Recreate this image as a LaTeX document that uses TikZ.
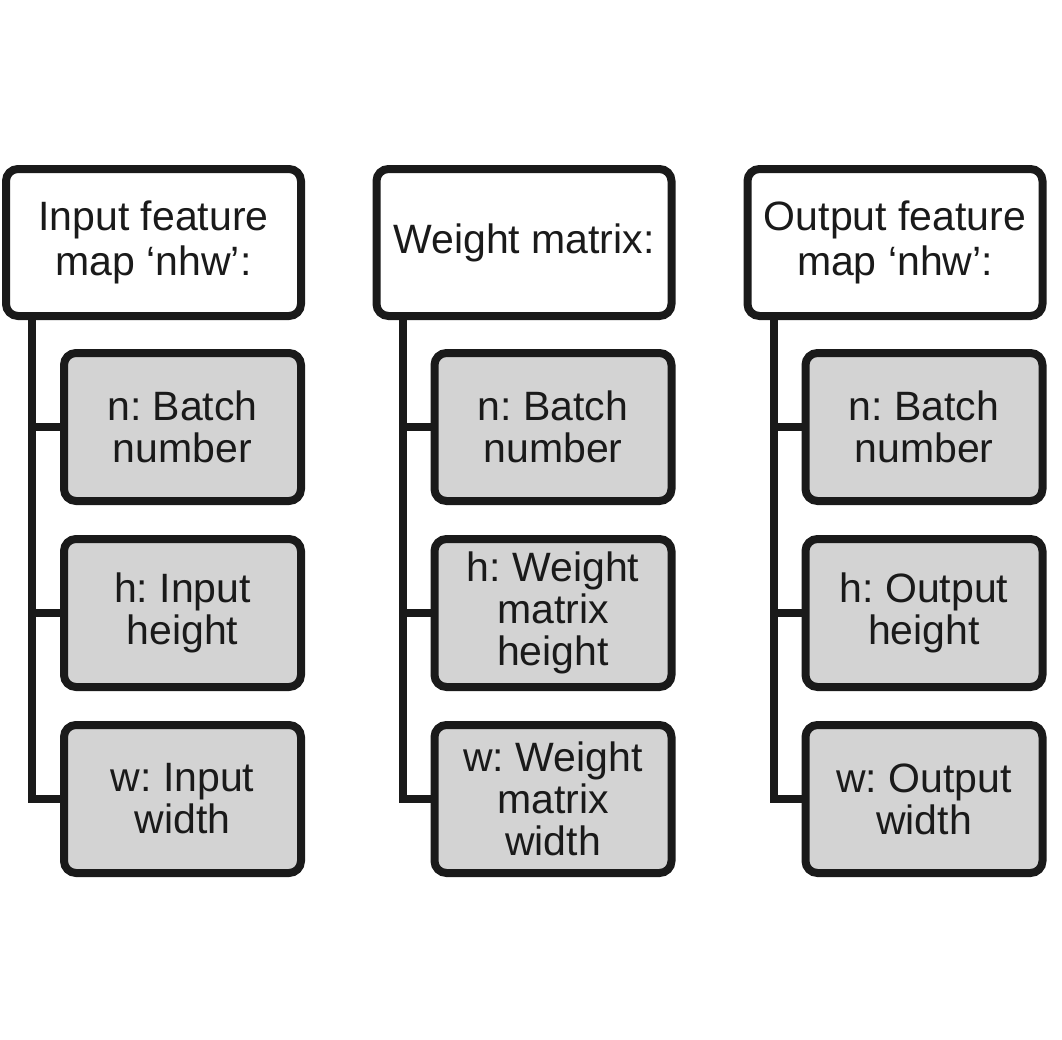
\documentclass[tikz,border=0pt]{standalone}
\usepackage{fontspec}
\setmainfont{Liberation Sans}
\usepackage{xcolor}
\usepackage{tikz}
\usetikzlibrary{positioning}
\definecolor{boxline}{RGB}{26, 26, 26}
\definecolor{boxgray}{RGB}{211, 211, 211}
\frenchspacing

\begin{document}
\begin{tikzpicture}[
  x=1pt, y=-1pt,
  parent/.style={
    draw=boxline, line width=8pt, rounded corners=12pt, fill=white,
    align=center, text=boxline, font=\fontsize{41}{45}\selectfont,
    minimum width=295pt, minimum height=147pt, inner sep=2pt
  },
  child/.style={
    draw=boxline, line width=8pt, rounded corners=12pt, fill=boxgray,
    align=center, text=boxline, font=\fontsize{41}{42}\selectfont,
    minimum width=237pt, minimum height=148pt, inner sep=2pt
  },
  link/.style={draw=boxline, line width=8pt}
]
  \useasboundingbox (0,0) rectangle (1062,1039);

  % --- Input feature map ---
  \node[parent] (IN) at (153.5, 242.5) {Input feature\\map ‘nhw’:};
  \node[child] (IN1) at (182.5, 427) {n: Batch\\number};
  \node[child] (IN2) at (182.5, 613) {h: Input\\height};
  \node[child] (IN3) at (182.5, 799) {w: Input\\width};

  % --- Weight matrix ---
  \node[parent] (WM) at (524, 242.5) {Weight matrix:};
  \node[child] (WM1) at (553, 427) {n: Batch\\number};
  \node[child] (WM2) at (553, 613) {h: Weight\\matrix\\height};
  \node[child] (WM3) at (553, 799) {w: Weight\\matrix\\width};

  % --- Output feature map ---
  \node[parent] (OUT) at (895, 242.5) {Output feature\\map ‘nhw’:};
  \node[child] (OUT1) at (924, 427) {n: Batch\\number};
  \node[child] (OUT2) at (924, 613) {h: Output\\height};
  \node[child] (OUT3) at (924, 799) {w: Output\\width};

  % --- Tree lines ---
  \foreach \p in {IN, WM, OUT} {
    \draw[link] ([xshift=30pt]\p.south west) |- (\p3.west);
    \draw[link] ([xshift=30pt]\p.south west |- \p1.west) -- (\p1.west);
    \draw[link] ([xshift=30pt]\p.south west |- \p2.west) -- (\p2.west);
  }
\end{tikzpicture}
\end{document}
